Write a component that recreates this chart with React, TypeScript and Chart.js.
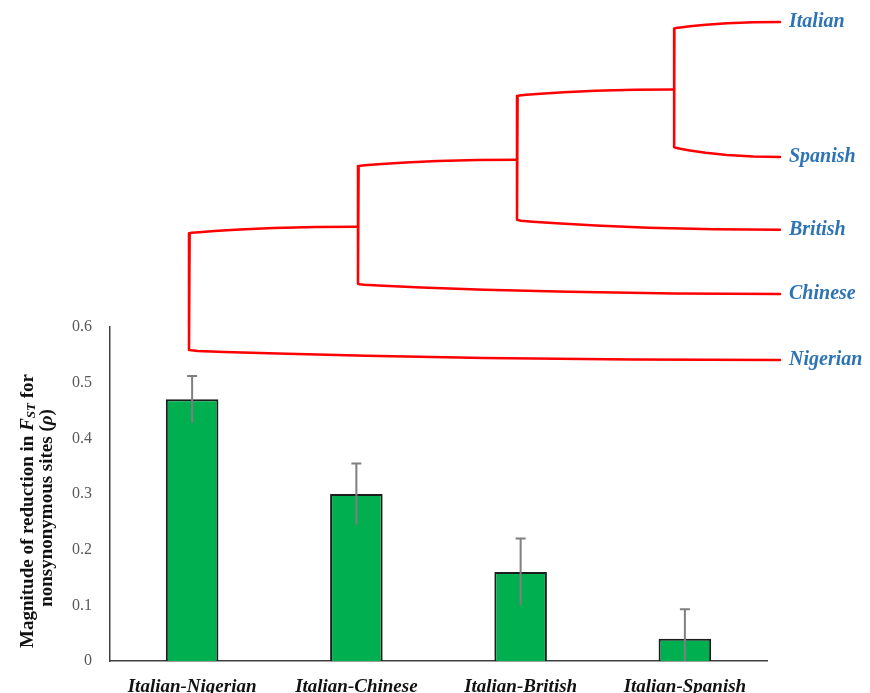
import React, { useEffect, useRef } from "react";
import { Chart, registerables } from "chart.js";

Chart.register(...registerables);

// ---- bar chart data ----
const pairLabels = ["Italian-Nigerian", "Italian-Chinese", "Italian-British", "Italian-Spanish"];
const rhoValues = [0.47, 0.3, 0.16, 0.04];
const rhoErrors = [0.042, 0.055, 0.06, 0.053];
const yTickValues = [0, 0.1, 0.2, 0.3, 0.4, 0.5, 0.6];

// ---- dendrogram data ----
const leafNames = ["Italian", "Spanish", "British", "Chinese", "Nigerian"];
const leafRows = [0, 2, 3.08, 4.03, 5.01];
// linkage: ids 0-4 are leaves, id 5+i is the i-th merge
const mergeUpper = [0, 5, 6, 7];
const mergeLower = [1, 2, 3, 4];
const mergeHeights = [1.06, 2.63, 4.22, 5.91];

const SERIF = "'Liberation Serif', 'Times New Roman', Times, serif";

// shape of a branch: [fraction along branch from parent, fraction of the elbow offset]
const branchBend: [number, number][] = [
  [0, 1],
  [0.004, 0.96],
  [0.015, 0.9],
  [0.06, 0.8],
  [0.15, 0.64],
  [0.3, 0.42],
  [0.5, 0.2],
  [0.75, 0.05],
  [1, 0],
];
const UPPER_INSET = 0.1;
const LOWER_INSET = 0.15;

function buildTree() {
  const n = leafNames.length;
  const rows: number[] = [...leafRows];
  const heights: number[] = leafNames.map(() => 0);
  const paths: { x: number; y: number }[][] = [];
  mergeHeights.forEach((H, i) => {
    const u = mergeUpper[i];
    const l = mergeLower[i];
    const ru = rows[u];
    const rl = rows[l];
    const hu = heights[u];
    const hl = heights[l];
    const pts: { x: number; y: number }[] = [];
    for (let k = branchBend.length - 1; k >= 0; k--) {
      const [t, f] = branchBend[k];
      pts.push({ x: H - t * (H - hu), y: ru + UPPER_INSET * f });
    }
    for (let k = 0; k < branchBend.length; k++) {
      const [t, f] = branchBend[k];
      pts.push({ x: H - t * (H - hl), y: rl - LOWER_INSET * f });
    }
    paths.push(pts);
    rows[n + i] = (ru + rl) / 2;
    heights[n + i] = H;
  });
  return paths;
}

const errorBarsPlugin = {
  id: "errorBars",
  afterDatasetsDraw(chart: any) {
    const { ctx, chartArea } = chart;
    const yScale = chart.scales.y;
    const meta = chart.getDatasetMeta(0);
    ctx.save();
    ctx.beginPath();
    ctx.rect(chartArea.left, chartArea.top - 20, chartArea.right - chartArea.left, chartArea.bottom - chartArea.top + 20);
    ctx.clip();
    ctx.strokeStyle = "#7f7f7f";
    ctx.lineWidth = 2;
    meta.data.forEach((bar: any, i: number) => {
      const v = rhoValues[i];
      const e = rhoErrors[i];
      const yTop = yScale.getPixelForValue(v + e);
      const yBot = yScale.getPixelForValue(Math.max(v - e, 0));
      ctx.beginPath();
      ctx.moveTo(bar.x, yTop);
      ctx.lineTo(bar.x, yBot);
      ctx.moveTo(bar.x - 5, yTop);
      ctx.lineTo(bar.x + 5, yTop);
      ctx.stroke();
    });
    ctx.restore();
  },
};

type Run = { text: string; font: string; shift?: number };

function drawRuns(ctx: CanvasRenderingContext2D, runs: Run[], cx: number, cy: number) {
  ctx.save();
  ctx.translate(cx, cy);
  ctx.rotate(-Math.PI / 2);
  let total = 0;
  for (const r of runs) {
    ctx.font = r.font;
    total += ctx.measureText(r.text).width;
  }
  let x = -total / 2;
  ctx.textBaseline = "middle";
  ctx.textAlign = "left";
  ctx.fillStyle = "#111111";
  for (const r of runs) {
    ctx.font = r.font;
    ctx.fillText(r.text, x, r.shift || 0);
    x += ctx.measureText(r.text).width;
  }
  ctx.restore();
}

const yTitlePlugin = {
  id: "yTitle",
  afterDraw(chart: any) {
    const { ctx, chartArea } = chart;
    const left = chart.scales.y.left;
    const cy = (chartArea.top + chartArea.bottom) / 2 + 17;
    const b = `bold 19px ${SERIF}`;
    const bi = `italic bold 19px ${SERIF}`;
    const sub = `italic bold 13px ${SERIF}`;
    drawRuns(
      ctx,
      [
        { text: "Magnitude of reduction in ", font: b },
        { text: "F", font: bi },
        { text: "ST", font: sub, shift: 4 },
        { text: " for", font: b },
      ],
      left + 28,
      cy
    );
    drawRuns(
      ctx,
      [
        { text: "nonsynonymous sites (", font: b },
        { text: "\u03C1", font: bi },
        { text: ")", font: b },
      ],
      left + 47,
      cy - 3
    );
  },
};

export default function App() {
  const barRef = useRef<HTMLCanvasElement>(null);
  const treeRef = useRef<HTMLCanvasElement>(null);

  useEffect(() => {
    const barChart = new Chart(barRef.current!, {
      type: "bar",
      data: {
        labels: pairLabels,
        datasets: [
          {
            data: rhoValues,
            backgroundColor: "#00B050",
            borderColor: "#1c1c1c",
            borderWidth: 2,
            borderSkipped: "start",
            barPercentage: 0.32,
            categoryPercentage: 1,
          },
        ],
      },
      options: {
        responsive: false,
        animation: false,
        layout: { padding: { left: 0, top: 327, right: 103, bottom: 0 } },
        plugins: { legend: { display: false }, tooltip: { enabled: false } },
        scales: {
          x: {
            grid: { display: false },
            border: { display: true, color: "#404040", width: 1.5 },
            ticks: {
              font: { family: SERIF, size: 19, weight: "bold", style: "italic" },
              color: "#111111",
              padding: 7,
              maxRotation: 0,
              autoSkip: false,
            },
            afterFit: (s: any) => {
              s.height = 32;
            },
          },
          y: {
            min: 0,
            max: 0.6,
            grid: { display: false },
            border: { display: true, color: "#404040", width: 1.5 },
            afterBuildTicks: (s: any) => {
              s.ticks = yTickValues.map((v) => ({ value: v }));
            },
            ticks: {
              font: { family: SERIF, size: 16 },
              color: "#595959",
              padding: 10,
              callback: (v: any) => (Number(v) === 0 ? "0" : Number(v).toFixed(1)),
            },
            afterFit: (s: any) => {
              s.width = 110;
            },
          },
        },
      },
      plugins: [errorBarsPlugin, yTitlePlugin],
    });

    const paths = buildTree();
    const treeChart = new Chart(treeRef.current!, {
      type: "scatter",
      data: {
        datasets: paths.map((p) => ({
          data: p,
          showLine: true,
          borderColor: "#FF0000",
          borderWidth: 2.5,
          pointRadius: 0,
          tension: 0,
          borderJoinStyle: "round",
          borderCapStyle: "round",
          clip: false,
        })),
      },
      options: {
        responsive: false,
        animation: false,
        layout: { padding: { left: 189, top: 22, right: 0, bottom: 333 } },
        plugins: { legend: { display: false }, tooltip: { enabled: false } },
        scales: {
          x: { type: "linear", display: false, reverse: true, min: 0, max: mergeHeights[mergeHeights.length - 1] },
          y: {
            type: "linear",
            position: "right",
            reverse: true,
            min: 0,
            max: leafRows[leafRows.length - 1],
            grid: { display: false },
            border: { display: false },
            afterBuildTicks: (s: any) => {
              s.ticks = leafRows.map((v) => ({ value: v }));
            },
            ticks: {
              autoSkip: false,
              padding: 1,
              color: "#2E74B5",
              font: { family: SERIF, size: 20, weight: "bold", style: "italic" },
              callback: (v: any) => leafNames[leafRows.indexOf(Number(v))],
            },
            afterFit: (s: any) => {
              s.width = 90;
            },
          },
        },
      },
    });

    return () => {
      barChart.destroy();
      treeChart.destroy();
    };
  }, []);

  return (
    <div style={{ position: "fixed", left: 0, top: 0, width: 870, height: 693, background: "#ffffff" }}>
      <canvas ref={barRef} width={870} height={693} style={{ position: "absolute", left: 0, top: 0 }} />
      <canvas ref={treeRef} width={870} height={693} style={{ position: "absolute", left: 0, top: 0 }} />
    </div>
  );
}
